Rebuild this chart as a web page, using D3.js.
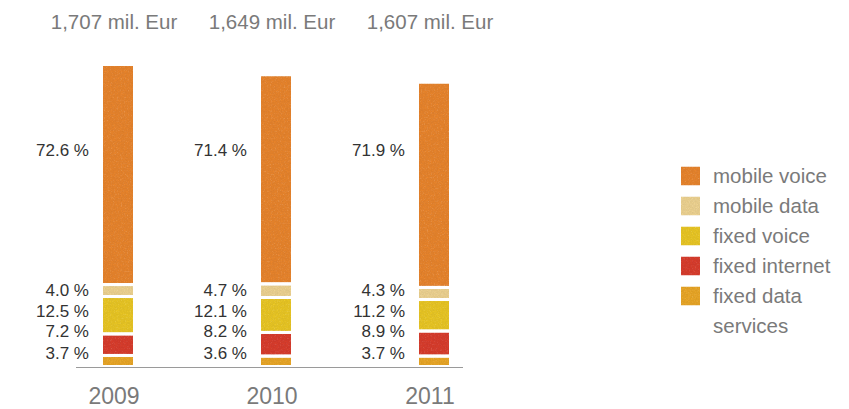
<!DOCTYPE html>
<html>
<head>
<meta charset="utf-8">
<script src="https://cdn.jsdelivr.net/npm/d3@7"></script>
<style>
  html, body { margin: 0; padding: 0; background: #fff; }
  svg { display: block; font-family: "Liberation Sans", Arial, Helvetica, sans-serif; }
</style>
</head>
<body>
<svg id="chart" width="849" height="409"></svg>
<script>
// Telecom revenue by year (mil. Eur) and its split by service (%)
const years = ["2009", "2010", "2011"];
const totals = [1707, 1649, 1607];
const totalLabels = ["1,707 mil. Eur", "1,649 mil. Eur", "1,607 mil. Eur"];
const services = ["fixed data services", "fixed internet", "fixed voice", "mobile data", "mobile voice"];
const fixedData = [3.7, 3.6, 3.7];
const fixedInternet = [7.2, 8.2, 8.9];
const fixedVoice = [12.5, 12.1, 11.2];
const mobileData = [4.0, 4.7, 4.3];
const mobileVoice = [72.6, 71.4, 71.9];
const legendLabels = ["mobile voice", "mobile data", "fixed voice", "fixed internet", "fixed data"];
const legendExtra = "services";

const colors = {
  "mobile voice": "#E8842C",
  "mobile data": "#EDD290",
  "fixed voice": "#E9C624",
  "fixed internet": "#D83C2C",
  "fixed data services": "#E9A626"
};

const shares = {
  "fixed data services": fixedData,
  "fixed internet": fixedInternet,
  "fixed voice": fixedVoice,
  "mobile data": mobileData,
  "mobile voice": mobileVoice
};

// rows in mil. Eur per service
const rows = years.map((y, i) => {
  const r = { year: y, total: totals[i] };
  services.forEach(s => { r[s] = totals[i] * shares[s][i] / 100; });
  return r;
});

const svg = d3.select("#chart");

// light grain on the fills
const defs = svg.append("defs");
const f = defs.append("filter").attr("id", "grain")
  .attr("x", 0).attr("y", 0).attr("width", 1).attr("height", 1);
f.append("feTurbulence").attr("type", "fractalNoise").attr("baseFrequency", 0.7)
  .attr("numOctaves", 2).attr("seed", 4).attr("result", "noise");
f.append("feColorMatrix").attr("in", "noise").attr("type", "saturate")
  .attr("values", 0).attr("result", "gray");
f.append("feComposite").attr("in", "SourceGraphic").attr("in2", "gray")
  .attr("operator", "arithmetic")
  .attr("k1", 0.45).attr("k2", 0.8).attr("k3", 0).attr("k4", 0)
  .attr("result", "tex");
f.append("feComposite").attr("in", "tex").attr("in2", "SourceAlpha").attr("operator", "in");

const x = d3.scaleBand().domain(years).range([35, 509]).paddingInner(0).paddingOuter(0);
const y = d3.scaleLinear().domain([0, 1707]).range([365, 66]);

const barW = 30;
const barOffset = -11; // bar left edge relative to band centre
const gap = 3;

const stack = d3.stack().keys(services)(rows);

const cx = d => x(d) + x.bandwidth() / 2;

// stacked bars
const layers = svg.append("g").selectAll("g")
  .data(stack).join("g")
  .attr("fill", d => colors[d.key]);

layers.selectAll("rect")
  .data(d => d.map(v => ({ key: d.key, v })))
  .join("rect")
  .attr("x", d => cx(d.v.data.year) + barOffset)
  .attr("width", barW)
  .attr("y", d => y(d.v[1]) + (d.key === "mobile voice" ? 0 : gap))
  .attr("height", d => Math.max(0, y(d.v[0]) - y(d.v[1]) - (d.key === "mobile voice" ? 0 : gap)))
  .attr("filter", "url(#grain)");

// baseline
svg.append("line")
  .attr("x1", 76).attr("x2", 463)
  .attr("y1", 367.5).attr("y2", 367.5)
  .attr("stroke", "#9a9a9a").attr("stroke-width", 1.2);

// percentage labels, one fixed row per service
const labelRows = {
  "mobile voice": 156,
  "mobile data": 296,
  "fixed voice": 317,
  "fixed internet": 337,
  "fixed data services": 359
};
const pctG = svg.append("g")
  .attr("font-size", 17).attr("fill", "#333").attr("text-anchor", "end");
years.forEach((yr, i) => {
  services.forEach(s => {
    pctG.append("text")
      .attr("x", cx(yr) + barOffset - 14)
      .attr("y", labelRows[s])
      .text(d3.format(".1f")(shares[s][i]) + " %");
  });
});

// totals above bars
svg.append("g").selectAll("text")
  .data(years).join("text")
  .attr("x", d => cx(d))
  .attr("y", 29)
  .attr("text-anchor", "middle")
  .attr("font-size", 20.5)
  .attr("fill", "#7a7a7a")
  .text((d, i) => totalLabels[i]);

// year labels
svg.append("g").selectAll("text")
  .data(years).join("text")
  .attr("x", d => cx(d))
  .attr("y", 404)
  .attr("text-anchor", "middle")
  .attr("font-size", 23)
  .attr("fill", "#7a7a7a")
  .text(d => d);

// legend
const legendKeys = ["mobile voice", "mobile data", "fixed voice", "fixed internet", "fixed data services"];
const lg = svg.append("g").attr("transform", "translate(681,0)");
legendKeys.forEach((k, i) => {
  const cy = 176 + i * 30;
  lg.append("rect")
    .attr("x", 0).attr("y", cy - 9.5)
    .attr("width", 19).attr("height", 19)
    .attr("fill", colors[k])
    .attr("filter", "url(#grain)");
  lg.append("text")
    .attr("x", 32).attr("y", cy + 7)
    .attr("font-size", 20.5).attr("fill", "#7a7a7a")
    .text(legendLabels[i]);
});
lg.append("text")
  .attr("x", 32).attr("y", 176 + 5 * 30 + 7)
  .attr("font-size", 20.5).attr("fill", "#7a7a7a")
  .text(legendExtra);
</script>
</body>
</html>
